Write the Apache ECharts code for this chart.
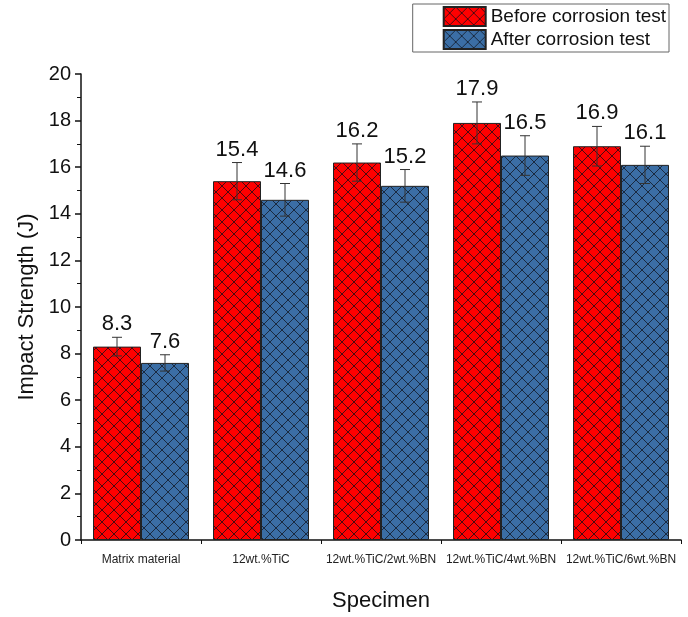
<!DOCTYPE html>
<html>
<head>
<meta charset="utf-8">
<script src="https://cdn.jsdelivr.net/npm/echarts@6/dist/echarts.min.js"></script>
<style>
  html, body { margin: 0; padding: 0; background: #fff; }
  #chart { width: 688px; height: 617px; }
</style>
</head>
<body>
<div id="chart"></div>
<script>
var categories = ['Matrix material', '12wt.%TiC', '12wt.%TiC/2wt.%BN', '12wt.%TiC/4wt.%BN', '12wt.%TiC/6wt.%BN'];
var seriesNames = ['Before corrosion test', 'After corrosion test'];
var beforeValues = [8.3, 15.4, 16.2, 17.9, 16.9];
var afterValues = [7.6, 14.6, 15.2, 16.5, 16.1];
var beforeErrors = [0.4, 0.8, 0.8, 0.9, 0.85];
var afterErrors = [0.35, 0.7, 0.7, 0.85, 0.8];

// hatched fill: colour + crossed diagonals, drawn pixel by pixel so both directions look the same
function hatch(color, line) {
    var c = document.createElement('canvas');
    var s = 12;
    c.width = s;
    c.height = s;
    var ctx = c.getContext('2d');
    ctx.fillStyle = color;
    ctx.fillRect(0, 0, s, s);
    ctx.fillStyle = line;
    for (var i = 0; i < s; i++) {
        ctx.fillRect(i, i, 1, 1);
        ctx.fillRect(s - 1 - i, i, 1, 1);
    }
    return { image: c, repeat: 'repeat' };
}

var redFill = hatch('#ff0000', '#4a0a10');
var blueFill = hatch('#3b6ea5', '#1a2a40');

// error bar + value label, shifted to its bar inside the group
function errorSeries(values, errors, shift) {
    var data = values.map(function (v, i) { return [i, v, errors[i]]; });
    return {
        type: 'custom',
        z: 5,
        data: data,
        renderItem: function (params, api) {
            var i = api.value(0), v = api.value(1), e = api.value(2);
            var band = api.size([1, 0])[0];
            var top = api.coord([i, v + e]);
            var bot = api.coord([i, v - e]);
            var x = top[0] + shift * band;
            var cap = 5;
            var ls = { stroke: '#333', lineWidth: 1 };
            return {
                type: 'group',
                children: [
                    { type: 'line', shape: { x1: x, y1: top[1], x2: x, y2: bot[1] }, style: ls },
                    { type: 'line', shape: { x1: x - cap, y1: top[1], x2: x + cap, y2: top[1] }, style: ls },
                    { type: 'line', shape: { x1: x - cap, y1: bot[1], x2: x + cap, y2: bot[1] }, style: ls },
                    {
                        type: 'text',
                        style: {
                            x: x, y: top[1] - 2,
                            text: v.toFixed(1),
                            align: 'center', verticalAlign: 'bottom',
                            font: '22px "Liberation Sans", Arial, sans-serif',
                            fill: '#111'
                        }
                    }
                ]
            };
        }
    };
}

var myChart = echarts.init(document.getElementById('chart'));
var option = {
    animation: false,
    textStyle: { fontFamily: '"Liberation Sans", Arial, sans-serif' },
    grid: { left: 81, right: 7, top: 74, bottom: 67 },
    legend: {
        right: 19, top: 4,
        orient: 'vertical',
        icon: 'rect',
        itemWidth: 42, itemHeight: 19,
        itemGap: 2,
        padding: [2, 3, 2, 30],
        borderColor: '#666', borderWidth: 1,
        textStyle: { fontSize: 19, color: '#111' },
        data: seriesNames
    },
    xAxis: [{
        type: 'category',
        data: categories,
        name: 'Specimen',
        nameLocation: 'middle',
        nameGap: 50,
        nameTextStyle: { fontSize: 22, color: '#111' },
        axisLine: { lineStyle: { color: '#111', width: 1.5 } },
        axisTick: { alignWithLabel: true, length: 6, lineStyle: { color: '#111', width: 1.5 } },
        axisLabel: {
            interval: 0, hideOverlap: false,
            fontSize: 12, color: '#222', margin: 14,
            fontFamily: '"Liberation Sans Narrow", "Liberation Sans", Arial, sans-serif'
        }
    }, {
        type: 'value',
        position: 'bottom',
        min: 0, max: 5, interval: 1,
        axisLine: { show: false },
        axisTick: { show: true, length: 4, inside: false, lineStyle: { color: '#111' } },
        axisLabel: { show: false },
        splitLine: { show: false }
    }],
    yAxis: {
        type: 'value',
        min: 0, max: 20, interval: 2,
        name: 'Impact Strength (J)',
        nameLocation: 'middle',
        nameGap: 38,
        nameTextStyle: { fontSize: 22, color: '#111' },
        axisLine: { show: true, lineStyle: { color: '#111', width: 1.5 } },
        axisTick: { show: true, length: 6, lineStyle: { color: '#111', width: 1.5 } },
        minorTick: { show: true, splitNumber: 2, length: 4, lineStyle: { color: '#111' } },
        axisLabel: { fontSize: 20, color: '#111', margin: 10 },
        splitLine: { show: false }
    },
    series: [
        {
            name: seriesNames[0], type: 'bar',
            data: beforeValues,
            barWidth: '40%', barGap: '0%',
            itemStyle: { color: redFill, borderColor: '#222', borderWidth: 1 }
        },
        {
            name: seriesNames[1], type: 'bar',
            data: afterValues,
            barWidth: '40%', barGap: '0%',
            itemStyle: { color: blueFill, borderColor: '#222', borderWidth: 1 }
        },
        errorSeries(beforeValues, beforeErrors, -0.2),
        errorSeries(afterValues, afterErrors, 0.2)
    ]
};
myChart.setOption(option);
</script>
</body>
</html>
